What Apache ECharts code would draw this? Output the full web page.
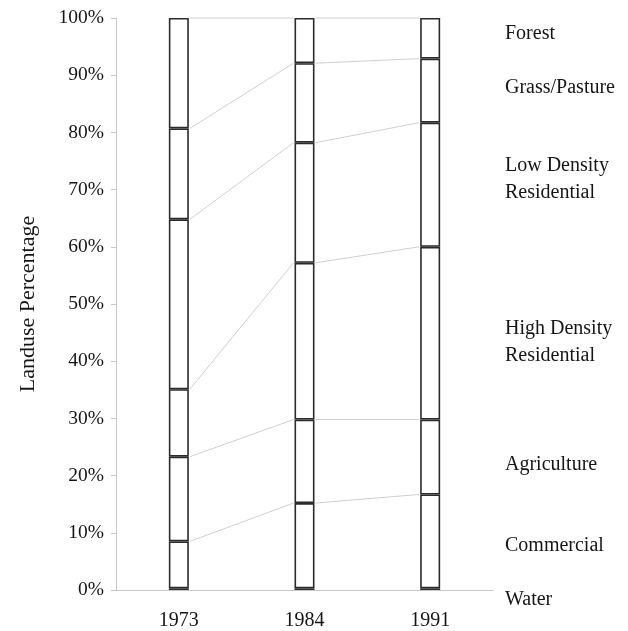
<!DOCTYPE html>
<html>
<head>
<meta charset="utf-8">
<script src="https://cdn.jsdelivr.net/npm/echarts@6/dist/echarts.min.js"></script>
<style>
  html, body { margin: 0; padding: 0; background: #fff; }
  #chart { width: 628px; height: 631px; }
</style>
</head>
<body>
<div id="chart"></div>
<script>
// data, percent of land per year (bottom to top)
var years = ['1973', '1984', '1991'];
var landuse = ['Water', 'Commercial', 'Agriculture', 'High Density Residential',
  'Low Density Residential', 'Grass/Pasture', 'Forest'];
var water = [0.3, 0.3, 0.3];
var commercial = [8.2, 14.9, 16.4];
var agriculture = [14.8, 14.6, 13.1];
var highDensity = [11.8, 27.4, 30.2];
var lowDensity = [29.7, 21.0, 21.7];
var grass = [15.9, 13.9, 11.2];
var forest = [19.3, 7.9, 7.1];
var yTicks = [0, 10, 20, 30, 40, 50, 60, 70, 80, 90, 100];

var segs = [water, commercial, agriculture, highDensity, lowDensity, grass, forest];
var serif = 'Liberation Serif';
var barW = 20;

// cumulative tops, used for the grey connecting lines
var tops = [];
var run = [0, 0, 0];
segs.forEach(function (s) {
  run = run.map(function (v, i) { return v + s[i]; });
  tops.push(run.slice());
});
var linkData = [];
tops.slice(1).forEach(function (t) {
  for (var i = 0; i < years.length - 1; i++) {
    linkData.push([i, t[i], t[i + 1]]);
  }
});

var chart = echarts.init(document.getElementById('chart'));

var series = segs.map(function (s, k) {
  return {
    name: landuse[k],
    type: 'bar',
    stack: 'all',
    barWidth: barW,
    z: 3,
    data: s,
    itemStyle: { color: '#fff', borderColor: '#2b2b2b', borderWidth: 1.6 }
  };
});

series.push({
  type: 'custom',
  z: 1,
  silent: true,
  encode: { x: 0, y: [1, 2] },
  data: linkData,
  renderItem: function (params, api) {
    var i = api.value(0);
    var p1 = api.coord([i, api.value(1)]);
    var p2 = api.coord([i + 1, api.value(2)]);
    var h = barW / 2 + 1;
    return {
      type: 'line',
      shape: { x1: p1[0] + h, y1: p1[1], x2: p2[0] - h, y2: p2[1] },
      style: { stroke: '#cfcfcf', lineWidth: 1 }
    };
  }
});

var labelStyle = { fill: '#151515', font: '20px "' + serif + '"', lineHeight: 27, textVerticalAlign: 'middle' };
function sideLabel(text, y) {
  return { type: 'text', left: 505, top: y, style: Object.assign({ text: text }, labelStyle) };
}

chart.setOption({
  animation: false,
  grid: { left: 116, right: 135, top: 18, bottom: 40 },
  xAxis: {
    type: 'category',
    data: years,
    axisLine: { lineStyle: { color: '#c8c8c8' } },
    axisTick: { length: 6, lineStyle: { color: '#c8c8c8' } },
    axisLabel: { margin: 21, color: '#151515', fontFamily: serif, fontSize: 20 }
  },
  yAxis: {
    type: 'value',
    min: 0,
    max: 100,
    interval: 10,
    name: 'Landuse Percentage',
    nameLocation: 'middle',
    nameGap: 77,
    nameTextStyle: { color: '#151515', fontFamily: serif, fontSize: 22 },
    axisLine: { show: true, lineStyle: { color: '#c8c8c8' } },
    axisTick: { show: true, length: 5, lineStyle: { color: '#c8c8c8' } },
    splitLine: { show: false },
    axisLabel: {
      margin: 12, color: '#151515', fontFamily: serif, fontSize: 19.5,
      formatter: function (v) { return yTicks.indexOf(v) >= 0 ? v + '%' : ''; }
    }
  },
  graphic: [
    sideLabel('Forest', 20),
    sideLabel('Grass/Pasture', 74),
    sideLabel('Low Density\nResidential', 152),
    sideLabel('High Density\nResidential', 315),
    sideLabel('Agriculture', 451),
    sideLabel('Commercial', 532),
    sideLabel('Water', 586)
  ],
  series: series
});
</script>
</body>
</html>
